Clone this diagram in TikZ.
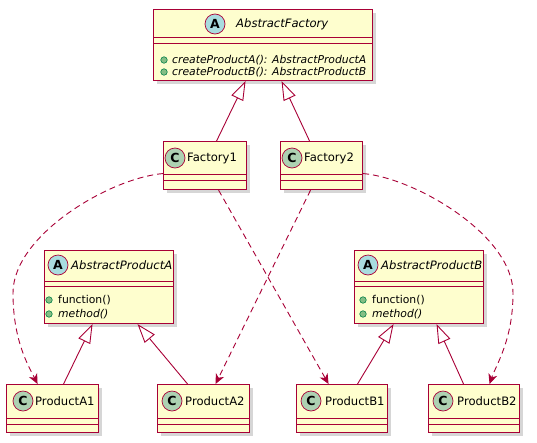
\documentclass[tikz,border=0pt]{standalone}
\usepackage{fontspec}
\setmainfont{DejaVu Sans}
\usetikzlibrary{arrows.meta,shadows}
\definecolor{pred}{HTML}{A80036}
\definecolor{pfill}{HTML}{FEFECE}
\definecolor{spotA}{HTML}{A9DCDF}
\definecolor{spotC}{HTML}{ADD1B2}
\definecolor{dotfill}{HTML}{84BE84}
\definecolor{dotline}{HTML}{038048}
\begin{document}
\begin{tikzpicture}[x=1pt,y=-1pt,
  cls/.style={draw=pred, fill=pfill, line width=1.1pt, inner sep=0pt, anchor=north west,
    drop shadow={shadow xshift=3pt, shadow yshift=-3pt, fill=black!40, opacity=.4}},
  sepl/.style={draw=pred, line width=0.9pt},
  spot/.style={circle, draw=pred, line width=0.7pt, minimum size=20pt, inner sep=0pt,
    font=\fontsize{12.5}{12.5}\selectfont\bfseries},
  spa/.style={spot, fill=spotA},
  spc/.style={spot, fill=spotC},
  nm/.style={anchor=west, inner sep=0pt, font=\fontsize{11.6}{12}\selectfont},
  mem/.style={anchor=west, inner sep=0pt, font=\fontsize{10.8}{12}\selectfont},
  mdot/.style={circle, draw=dotline, fill=dotfill, minimum size=6.5pt, inner sep=0pt, line width=0.6pt},
  inh/.style={draw=pred, line width=0.9pt, -{Triangle[open, length=19pt, width=13pt]}},
  dep/.style={draw=pred, line width=0.9pt, dash pattern=on 6pt off 4pt,
    -{Stealth[length=10pt, width=9pt, inset=3pt]}},
]
\useasboundingbox (0,0) rectangle (537,442);

% AbstractFactory
\node[cls, minimum width=219pt, minimum height=71pt] (af) at (153,9) {};
\draw[sepl] (153,37) -- (372,37);
\draw[sepl] (153,43) -- (372,43);
\node[spa] (afs) at (215,24) {A};
\node[nm] (afn) at (236,24) {\itshape AbstractFactory};
\node[mdot] (afd1) at (164,60) {};
\node[mdot] (afd2) at (164,72) {};
\node[mem] (afm1) at (172,60) {\itshape createProductA(): AbstractProductA};
\node[mem] (afm2) at (172,72) {\itshape createProductB(): AbstractProductB};

% Factory1
\node[cls, minimum width=83pt, minimum height=48pt] (f1) at (163,141) {};
\draw[sepl] (163,174) -- (246,174);
\draw[sepl] (163,180) -- (246,180);
\node[spc] (f1s) at (175,158) {C};
\node[nm] (f1n) at (187,158) {Factory1};

% Factory2
\node[cls, minimum width=82pt, minimum height=48pt] (f2) at (280,141) {};
\draw[sepl] (280,174) -- (362,174);
\draw[sepl] (280,180) -- (362,180);
\node[spc] (f2s) at (292,158) {C};
\node[nm] (f2n) at (304,158) {Factory2};

% AbstractProductA
\node[cls, minimum width=129pt, minimum height=73pt] (apa) at (44,250) {};
\draw[sepl] (44,281) -- (173,281);
\draw[sepl] (44,286) -- (173,286);
\node[spa] (apas) at (58,265) {A};
\node[nm] (apan) at (71,265) {\itshape AbstractProductA};
\node[mdot] (apad1) at (49,300) {};
\node[mdot] (apad2) at (49,314) {};
\node[mem] (apam1) at (58,300) {function()};
\node[mem] (apam2) at (58,314) {\itshape method()};

% AbstractProductB
\node[cls, minimum width=129pt, minimum height=73pt] (apb) at (354,250) {};
\draw[sepl] (354,281) -- (483,281);
\draw[sepl] (354,286) -- (483,286);
\node[spa] (apbs) at (368,265) {A};
\node[nm] (apbn) at (381,265) {\itshape AbstractProductB};
\node[mdot] (apbd1) at (363,300) {};
\node[mdot] (apbd2) at (363,314) {};
\node[mem] (apbm1) at (372,300) {function()};
\node[mem] (apbm2) at (372,314) {\itshape method()};

% Products
\node[cls, minimum width=92pt, minimum height=48pt] (pa1) at (6,384) {};
\draw[sepl] (6,418) -- (98,418);
\draw[sepl] (6,424) -- (98,424);
\node[spc] (pa1s) at (23,401) {C};
\node[nm] (pa1n) at (35,401) {ProductA1};

\node[cls, minimum width=92pt, minimum height=48pt] (pa2) at (157,384) {};
\draw[sepl] (157,418) -- (249,418);
\draw[sepl] (157,424) -- (249,424);
\node[spc] (pa2s) at (172,401) {C};
\node[nm] (pa2n) at (185,401) {ProductA2};

\node[cls, minimum width=91pt, minimum height=48pt] (pb1) at (296,384) {};
\draw[sepl] (296,418) -- (387,418);
\draw[sepl] (296,424) -- (387,424);
\node[spc] (pb1s) at (311,401) {C};
\node[nm] (pb1n) at (325,401) {ProductB1};

\node[cls, minimum width=91pt, minimum height=48pt] (pb2) at (428,384) {};
\draw[sepl] (428,418) -- (519,418);
\draw[sepl] (428,424) -- (519,424);
\node[spc] (pb2s) at (443,401) {C};
\node[nm] (pb2n) at (457,401) {ProductB2};

% inheritance
\draw[inh] ([xshift=11.5pt]f1.north) -- ([xshift=-17.5pt]af.south);
\draw[inh] ([xshift=-12pt]f2.north) -- ([xshift=18.5pt]af.south);
\draw[inh] ([xshift=11pt]pa1.north) -- ([xshift=-16.5pt]apa.south);
\draw[inh] ([xshift=-16pt]pa2.north) -- ([xshift=28.5pt]apa.south);
\draw[inh] ([xshift=15.5pt]pb1.north) -- ([xshift=-25.5pt]apb.south);
\draw[inh] ([xshift=-10.5pt]pb2.north) -- ([xshift=17.5pt]apb.south);

% dependencies
\draw[dep] ([xshift=13.5pt]f1.south) -- ([xshift=-13.5pt]pb1.north);
\draw[dep] ([xshift=-11pt]f2.south) -- ([xshift=12pt]pa2.north);
\draw[dep] ([yshift=-8pt]f1.west) .. controls (110,178) and (13,235) .. (13,293)
  .. controls (13,340) and (28,365) .. ([xshift=-15pt]pa1.north);
\draw[dep] ([yshift=-8pt]f2.east) .. controls (415,178) and (513,235) .. (513,293)
  .. controls (513,340) and (496,365) .. ([xshift=15.5pt]pb2.north);
\end{tikzpicture}
\end{document}
